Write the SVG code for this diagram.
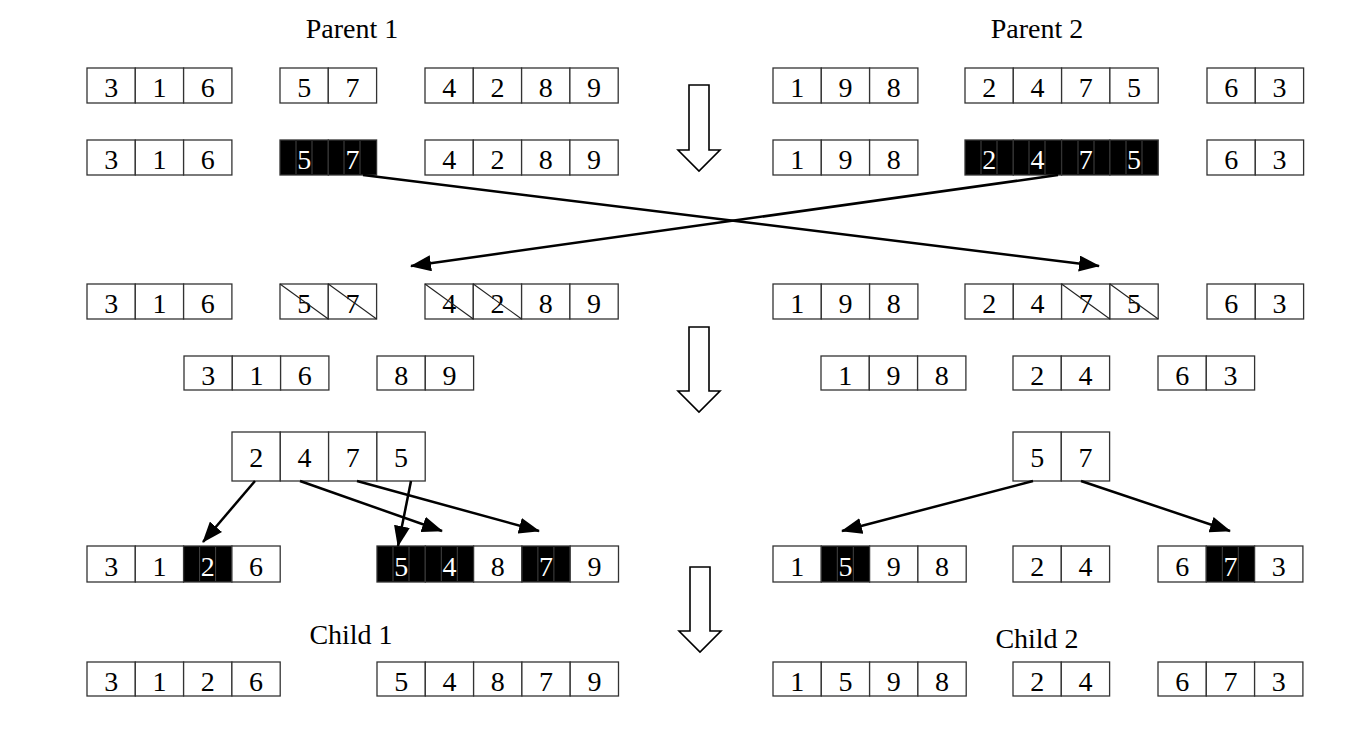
<svg xmlns="http://www.w3.org/2000/svg" width="1360" height="734" viewBox="0 0 1360 734">
<style>
.c{fill:#fff;stroke:#333;stroke-width:1.3}
.b{fill:#000;stroke:#333;stroke-width:1.3}
.g{stroke:#555;stroke-width:0.8}
.x{stroke:#222;stroke-width:1.1}
.t{font-family:"Liberation Serif","Times New Roman",serif;font-size:28px;fill:#000;text-anchor:middle}
.w{font-family:"Liberation Serif","Times New Roman",serif;font-size:28px;fill:#fff;text-anchor:middle}
.lab{font-family:"Liberation Serif","Times New Roman",serif;font-size:28px;fill:#000;text-anchor:middle}
.ln{stroke:#000;stroke-width:2.5;fill:none;marker-end:url(#ah)}
.ha{fill:#fff;stroke:#000;stroke-width:1.6}
</style>
<defs>
<marker id="ah" markerUnits="userSpaceOnUse" markerWidth="22" markerHeight="16" refX="20" refY="8" orient="auto">
<path d="M0,0 L21,8 L0,16 z" fill="#000"/>
</marker>
</defs>
<rect width="1360" height="734" fill="#fff"/>

<g id="labels">
<text class="lab" x="352" y="38">Parent 1</text>
<text class="lab" x="1037" y="38">Parent 2</text>
<text class="lab" x="351" y="644">Child 1</text>
<text class="lab" x="1037" y="648">Child 2</text>
</g>

<!-- Row 1 -->
<g id="r1-p1a"><rect class="c" x="87" y="68" width="48.3" height="35"/><rect class="c" x="135.3" y="68" width="48.3" height="35"/><rect class="c" x="183.6" y="68" width="48.3" height="35"/>
<text class="t" x="111.2" y="97">3</text><text class="t" x="159.5" y="97">1</text><text class="t" x="207.8" y="97">6</text></g>
<g id="r1-p1b"><rect class="c" x="280" y="68" width="48.3" height="35"/><rect class="c" x="328.3" y="68" width="48.3" height="35"/>
<text class="t" x="304.2" y="97">5</text><text class="t" x="352.5" y="97">7</text></g>
<g id="r1-p1c"><rect class="c" x="425" y="68" width="48.3" height="35"/><rect class="c" x="473.3" y="68" width="48.3" height="35"/><rect class="c" x="521.6" y="68" width="48.3" height="35"/><rect class="c" x="569.9" y="68" width="48.3" height="35"/>
<text class="t" x="449.2" y="97">4</text><text class="t" x="497.5" y="97">2</text><text class="t" x="545.8" y="97">8</text><text class="t" x="594.1" y="97">9</text></g>
<g id="r1-p2a"><rect class="c" x="773" y="68" width="48.3" height="35"/><rect class="c" x="821.3" y="68" width="48.3" height="35"/><rect class="c" x="869.6" y="68" width="48.3" height="35"/>
<text class="t" x="797.2" y="97">1</text><text class="t" x="845.5" y="97">9</text><text class="t" x="893.8" y="97">8</text></g>
<g id="r1-p2b"><rect class="c" x="965" y="68" width="48.3" height="35"/><rect class="c" x="1013.3" y="68" width="48.3" height="35"/><rect class="c" x="1061.6" y="68" width="48.3" height="35"/><rect class="c" x="1109.9" y="68" width="48.3" height="35"/>
<text class="t" x="989.2" y="97">2</text><text class="t" x="1037.5" y="97">4</text><text class="t" x="1085.8" y="97">7</text><text class="t" x="1134.1" y="97">5</text></g>
<g id="r1-p2c"><rect class="c" x="1207" y="68" width="48.3" height="35"/><rect class="c" x="1255.3" y="68" width="48.3" height="35"/>
<text class="t" x="1231.2" y="97">6</text><text class="t" x="1279.5" y="97">3</text></g>

<!-- Row 2 -->
<g id="r2-p1a"><rect class="c" x="87" y="140" width="48.3" height="35"/><rect class="c" x="135.3" y="140" width="48.3" height="35"/><rect class="c" x="183.6" y="140" width="48.3" height="35"/>
<text class="t" x="111.2" y="169">3</text><text class="t" x="159.5" y="169">1</text><text class="t" x="207.8" y="169">6</text></g>
<g id="r2-p1b"><rect class="b" x="280" y="140" width="48.3" height="35"/><rect class="b" x="328.3" y="140" width="48.3" height="35"/>
<line class="g" x1="296" y1="141" x2="296" y2="174"/><line class="g" x1="312" y1="141" x2="312" y2="174"/><line class="g" x1="344" y1="141" x2="344" y2="174"/><line class="g" x1="360" y1="141" x2="360" y2="174"/>
<text class="w" x="304.2" y="169">5</text><text class="w" x="352.5" y="169">7</text></g>
<g id="r2-p1c"><rect class="c" x="425" y="140" width="48.3" height="35"/><rect class="c" x="473.3" y="140" width="48.3" height="35"/><rect class="c" x="521.6" y="140" width="48.3" height="35"/><rect class="c" x="569.9" y="140" width="48.3" height="35"/>
<text class="t" x="449.2" y="169">4</text><text class="t" x="497.5" y="169">2</text><text class="t" x="545.8" y="169">8</text><text class="t" x="594.1" y="169">9</text></g>
<g id="r2-p2a"><rect class="c" x="773" y="140" width="48.3" height="35"/><rect class="c" x="821.3" y="140" width="48.3" height="35"/><rect class="c" x="869.6" y="140" width="48.3" height="35"/>
<text class="t" x="797.2" y="169">1</text><text class="t" x="845.5" y="169">9</text><text class="t" x="893.8" y="169">8</text></g>
<g id="r2-p2b"><rect class="b" x="965" y="140" width="48.3" height="35"/><rect class="b" x="1013.3" y="140" width="48.3" height="35"/><rect class="b" x="1061.6" y="140" width="48.3" height="35"/><rect class="b" x="1109.9" y="140" width="48.3" height="35"/>
<line class="g" x1="981" y1="141" x2="981" y2="174"/><line class="g" x1="997" y1="141" x2="997" y2="174"/><line class="g" x1="1029" y1="141" x2="1029" y2="174"/><line class="g" x1="1045" y1="141" x2="1045" y2="174"/><line class="g" x1="1078" y1="141" x2="1078" y2="174"/><line class="g" x1="1094" y1="141" x2="1094" y2="174"/><line class="g" x1="1126" y1="141" x2="1126" y2="174"/><line class="g" x1="1142" y1="141" x2="1142" y2="174"/>
<text class="w" x="989.2" y="169">2</text><text class="w" x="1037.5" y="169">4</text><text class="w" x="1085.8" y="169">7</text><text class="w" x="1134.1" y="169">5</text></g>
<g id="r2-p2c"><rect class="c" x="1207" y="140" width="48.3" height="35"/><rect class="c" x="1255.3" y="140" width="48.3" height="35"/>
<text class="t" x="1231.2" y="169">6</text><text class="t" x="1279.5" y="169">3</text></g>

<!-- Row 3 -->
<g id="r3-p1a"><rect class="c" x="87" y="284" width="48.3" height="35"/><rect class="c" x="135.3" y="284" width="48.3" height="35"/><rect class="c" x="183.6" y="284" width="48.3" height="35"/>
<text class="t" x="111.2" y="313">3</text><text class="t" x="159.5" y="313">1</text><text class="t" x="207.8" y="313">6</text></g>
<g id="r3-p1b"><rect class="c" x="280" y="284" width="48.3" height="35"/><rect class="c" x="328.3" y="284" width="48.3" height="35"/>
<text class="t" x="304.2" y="313">5</text><text class="t" x="352.5" y="313">7</text>
<line class="x" x1="280" y1="284" x2="328.3" y2="319"/><line class="x" x1="328.3" y1="284" x2="376.6" y2="319"/></g>
<g id="r3-p1c"><rect class="c" x="425" y="284" width="48.3" height="35"/><rect class="c" x="473.3" y="284" width="48.3" height="35"/><rect class="c" x="521.6" y="284" width="48.3" height="35"/><rect class="c" x="569.9" y="284" width="48.3" height="35"/>
<text class="t" x="449.2" y="313">4</text><text class="t" x="497.5" y="313">2</text><text class="t" x="545.8" y="313">8</text><text class="t" x="594.1" y="313">9</text>
<line class="x" x1="425" y1="284" x2="473.3" y2="319"/><line class="x" x1="473.3" y1="284" x2="521.6" y2="319"/></g>
<g id="r3-p2a"><rect class="c" x="773" y="284" width="48.3" height="35"/><rect class="c" x="821.3" y="284" width="48.3" height="35"/><rect class="c" x="869.6" y="284" width="48.3" height="35"/>
<text class="t" x="797.2" y="313">1</text><text class="t" x="845.5" y="313">9</text><text class="t" x="893.8" y="313">8</text></g>
<g id="r3-p2b"><rect class="c" x="965" y="284" width="48.3" height="35"/><rect class="c" x="1013.3" y="284" width="48.3" height="35"/><rect class="c" x="1061.6" y="284" width="48.3" height="35"/><rect class="c" x="1109.9" y="284" width="48.3" height="35"/>
<text class="t" x="989.2" y="313">2</text><text class="t" x="1037.5" y="313">4</text><text class="t" x="1085.8" y="313">7</text><text class="t" x="1134.1" y="313">5</text>
<line class="x" x1="1061.6" y1="284" x2="1109.9" y2="319"/><line class="x" x1="1109.9" y1="284" x2="1158.2" y2="319"/></g>
<g id="r3-p2c"><rect class="c" x="1207" y="284" width="48.3" height="35"/><rect class="c" x="1255.3" y="284" width="48.3" height="35"/>
<text class="t" x="1231.2" y="313">6</text><text class="t" x="1279.5" y="313">3</text></g>

<!-- Row 4 -->
<g id="r4-a"><rect class="c" x="184" y="356" width="48.3" height="34"/><rect class="c" x="232.3" y="356" width="48.3" height="34"/><rect class="c" x="280.6" y="356" width="48.3" height="34"/>
<text class="t" x="208.2" y="385">3</text><text class="t" x="256.5" y="385">1</text><text class="t" x="304.8" y="385">6</text></g>
<g id="r4-b"><rect class="c" x="377" y="356" width="48.3" height="34"/><rect class="c" x="425.3" y="356" width="48.3" height="34"/>
<text class="t" x="401.2" y="385">8</text><text class="t" x="449.5" y="385">9</text></g>
<g id="r4-c"><rect class="c" x="821" y="356" width="48.3" height="34"/><rect class="c" x="869.3" y="356" width="48.3" height="34"/><rect class="c" x="917.6" y="356" width="48.3" height="34"/>
<text class="t" x="845.2" y="385">1</text><text class="t" x="893.5" y="385">9</text><text class="t" x="941.8" y="385">8</text></g>
<g id="r4-d"><rect class="c" x="1013" y="356" width="48.3" height="34"/><rect class="c" x="1061.3" y="356" width="48.3" height="34"/>
<text class="t" x="1037.2" y="385">2</text><text class="t" x="1085.5" y="385">4</text></g>
<g id="r4-e"><rect class="c" x="1158" y="356" width="48.3" height="34"/><rect class="c" x="1206.3" y="356" width="48.3" height="34"/>
<text class="t" x="1182.2" y="385">6</text><text class="t" x="1230.5" y="385">3</text></g>

<!-- Row 5 -->
<g id="r5-a"><rect class="c" x="232" y="432" width="48.3" height="49"/><rect class="c" x="280.3" y="432" width="48.3" height="49"/><rect class="c" x="328.6" y="432" width="48.3" height="49"/><rect class="c" x="376.9" y="432" width="48.3" height="49"/>
<text class="t" x="256.2" y="467">2</text><text class="t" x="304.5" y="467">4</text><text class="t" x="352.8" y="467">7</text><text class="t" x="401.1" y="467">5</text></g>
<g id="r5-b"><rect class="c" x="1013" y="432" width="48.3" height="49"/><rect class="c" x="1061.3" y="432" width="48.3" height="49"/>
<text class="t" x="1037.2" y="467">5</text><text class="t" x="1085.5" y="467">7</text></g>

<!-- Row 6 -->
<g id="r6-a"><rect class="c" x="87" y="546" width="48.3" height="36"/><rect class="c" x="135.3" y="546" width="48.3" height="36"/><rect class="b" x="183.6" y="546" width="48.3" height="36"/><rect class="c" x="231.9" y="546" width="48.3" height="36"/>
<line class="g" x1="199.6" y1="547" x2="199.6" y2="581"/><line class="g" x1="215.6" y1="547" x2="215.6" y2="581"/>
<text class="t" x="111.2" y="576">3</text><text class="t" x="159.5" y="576">1</text><text class="w" x="207.8" y="576">2</text><text class="t" x="256.1" y="576">6</text></g>
<g id="r6-b"><rect class="b" x="377" y="546" width="48.3" height="36"/><rect class="b" x="425.3" y="546" width="48.3" height="36"/><rect class="c" x="473.6" y="546" width="48.3" height="36"/><rect class="b" x="521.9" y="546" width="48.3" height="36"/><rect class="c" x="570.2" y="546" width="48.3" height="36"/>
<line class="g" x1="393" y1="547" x2="393" y2="581"/><line class="g" x1="409" y1="547" x2="409" y2="581"/><line class="g" x1="441.3" y1="547" x2="441.3" y2="581"/><line class="g" x1="457.3" y1="547" x2="457.3" y2="581"/><line class="g" x1="537.9" y1="547" x2="537.9" y2="581"/><line class="g" x1="553.9" y1="547" x2="553.9" y2="581"/>
<text class="w" x="401.2" y="576">5</text><text class="w" x="449.5" y="576">4</text><text class="t" x="497.8" y="576">8</text><text class="w" x="546.1" y="576">7</text><text class="t" x="594.4" y="576">9</text></g>
<g id="r6-c"><rect class="c" x="773" y="546" width="48.3" height="36"/><rect class="b" x="821.3" y="546" width="48.3" height="36"/><rect class="c" x="869.6" y="546" width="48.3" height="36"/><rect class="c" x="917.9" y="546" width="48.3" height="36"/>
<line class="g" x1="837.3" y1="547" x2="837.3" y2="581"/><line class="g" x1="853.3" y1="547" x2="853.3" y2="581"/>
<text class="t" x="797.2" y="576">1</text><text class="w" x="845.5" y="576">5</text><text class="t" x="893.8" y="576">9</text><text class="t" x="942.1" y="576">8</text></g>
<g id="r6-d"><rect class="c" x="1013" y="546" width="48.3" height="36"/><rect class="c" x="1061.3" y="546" width="48.3" height="36"/>
<text class="t" x="1037.2" y="576">2</text><text class="t" x="1085.5" y="576">4</text></g>
<g id="r6-e"><rect class="c" x="1158" y="546" width="48.3" height="36"/><rect class="b" x="1206.3" y="546" width="48.3" height="36"/><rect class="c" x="1254.6" y="546" width="48.3" height="36"/>
<line class="g" x1="1222.3" y1="547" x2="1222.3" y2="581"/><line class="g" x1="1238.3" y1="547" x2="1238.3" y2="581"/>
<text class="t" x="1182.2" y="576">6</text><text class="w" x="1230.5" y="576">7</text><text class="t" x="1278.8" y="576">3</text></g>

<!-- Row 7 -->
<g id="r7-a"><rect class="c" x="87" y="662" width="48.3" height="34"/><rect class="c" x="135.3" y="662" width="48.3" height="34"/><rect class="c" x="183.6" y="662" width="48.3" height="34"/><rect class="c" x="231.9" y="662" width="48.3" height="34"/>
<text class="t" x="111.2" y="691">3</text><text class="t" x="159.5" y="691">1</text><text class="t" x="207.8" y="691">2</text><text class="t" x="256.1" y="691">6</text></g>
<g id="r7-b"><rect class="c" x="377" y="662" width="48.3" height="34"/><rect class="c" x="425.3" y="662" width="48.3" height="34"/><rect class="c" x="473.6" y="662" width="48.3" height="34"/><rect class="c" x="521.9" y="662" width="48.3" height="34"/><rect class="c" x="570.2" y="662" width="48.3" height="34"/>
<text class="t" x="401.2" y="691">5</text><text class="t" x="449.5" y="691">4</text><text class="t" x="497.8" y="691">8</text><text class="t" x="546.1" y="691">7</text><text class="t" x="594.4" y="691">9</text></g>
<g id="r7-c"><rect class="c" x="773" y="662" width="48.3" height="34"/><rect class="c" x="821.3" y="662" width="48.3" height="34"/><rect class="c" x="869.6" y="662" width="48.3" height="34"/><rect class="c" x="917.9" y="662" width="48.3" height="34"/>
<text class="t" x="797.2" y="691">1</text><text class="t" x="845.5" y="691">5</text><text class="t" x="893.8" y="691">9</text><text class="t" x="942.1" y="691">8</text></g>
<g id="r7-d"><rect class="c" x="1013" y="662" width="48.3" height="34"/><rect class="c" x="1061.3" y="662" width="48.3" height="34"/>
<text class="t" x="1037.2" y="691">2</text><text class="t" x="1085.5" y="691">4</text></g>
<g id="r7-e"><rect class="c" x="1158" y="662" width="48.3" height="34"/><rect class="c" x="1206.3" y="662" width="48.3" height="34"/><rect class="c" x="1254.6" y="662" width="48.3" height="34"/>
<text class="t" x="1182.2" y="691">6</text><text class="t" x="1230.5" y="691">7</text><text class="t" x="1278.8" y="691">3</text></g>

<!-- hollow step arrows -->
<g id="steps">
<polygon class="ha" points="689,85 709,85 709,150 720,150 699,171 678,150 689,150"/>
<polygon class="ha" points="689,327 709,327 709,391 720,391 699,412 678,391 689,391"/>
<polygon class="ha" points="690,567 710,567 710,631 721,631 700,652 679,631 690,631"/>
</g>

<g id="connectors">
<line class="ln" x1="363" y1="175" x2="1099" y2="266"/>
<line class="ln" x1="1058" y1="175" x2="411" y2="266"/>
<line class="ln" x1="255" y1="481" x2="203" y2="542"/>
<line class="ln" x1="300" y1="481" x2="442" y2="531"/>
<line class="ln" x1="357" y1="481" x2="539" y2="531"/>
<line class="ln" x1="411" y1="481" x2="398" y2="546"/>
<line class="ln" x1="1033" y1="481" x2="842" y2="531"/>
<line class="ln" x1="1081" y1="481" x2="1230" y2="531"/>
</g>
</svg>
